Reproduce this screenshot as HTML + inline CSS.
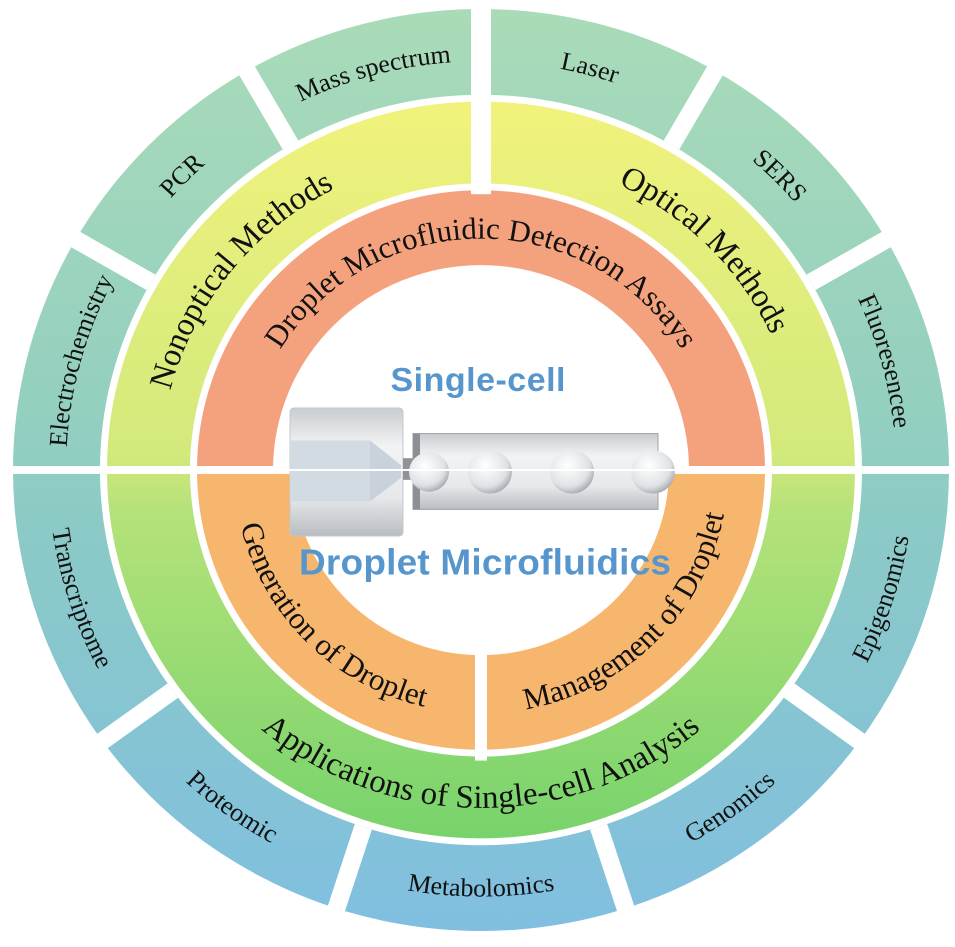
<!DOCTYPE html>
<html><head><meta charset="utf-8"><style>
html,body{margin:0;padding:0;background:#fff;}
svg{display:block;}
.o{font-family:"Liberation Serif",serif;font-size:26px;fill:#111;}
.g{font-family:"Liberation Serif",serif;font-size:33px;fill:#111;}
.r{font-family:"Liberation Serif",serif;font-size:31px;fill:#111;}
</style></head><body>
<svg width="955" height="947" viewBox="0 0 955 947" xmlns="http://www.w3.org/2000/svg">
<defs>
<linearGradient id="og" gradientUnits="userSpaceOnUse" x1="0" y1="-468" x2="0" y2="468">
<stop offset="0" stop-color="#a9dbb8"/><stop offset="0.45" stop-color="#93cfc0"/><stop offset="0.55" stop-color="#8ccac6"/><stop offset="1" stop-color="#80bfe0"/></linearGradient>
<linearGradient id="gg" gradientUnits="userSpaceOnUse" x1="0" y1="-374" x2="0" y2="374">
<stop offset="0" stop-color="#f1f27c"/><stop offset="0.48" stop-color="#d2e97c"/><stop offset="0.55" stop-color="#b6e27a"/><stop offset="1" stop-color="#78d36c"/></linearGradient>
<linearGradient id="mg" x1="0" y1="0" x2="0" y2="1">
<stop offset="0" stop-color="#c9ccd0"/><stop offset="0.3" stop-color="#f2f3f4"/><stop offset="0.7" stop-color="#e6e8ea"/><stop offset="1" stop-color="#b9bdc1"/></linearGradient>
<radialGradient id="dg" cx="0.4" cy="0.35" r="0.7">
<stop offset="0" stop-color="#ffffff"/><stop offset="0.7" stop-color="#dfe2e5"/><stop offset="1" stop-color="#9fa4a9"/></radialGradient>
</defs>
<g transform="translate(481,470) scale(1,0.985)">
<circle r="468" fill="url(#og)"/>
<circle r="377" fill="url(#gg)"/>
<path d="M -287 0 A 287 287 0 0 1 287 0 Z" fill="#f4a27e"/>
<path d="M -287 0 A 287 287 0 0 0 287 0 Z" fill="#f7b66e"/>
<circle r="188" fill="#fff"/>
<path d="M -208 0 A 208 208 0 0 1 208 0 Z" fill="#fff"/>
<circle r="377.5" fill="none" stroke="#fff" stroke-width="7"/>
<circle r="287.5" fill="none" stroke="#fff" stroke-width="7"/>
<rect x="-500" y="-4" width="1000" height="8" fill="#fff"/>
<rect x="-10" y="-480" width="20" height="200" fill="#fff"/>
<rect x="-6" y="0" width="12" height="295" fill="#fff"/>
<g stroke="#fff" stroke-width="18">
<line x1="-330" y1="-190.5" x2="-424.4" y2="-245"/>
<line x1="-190.5" y1="-330" x2="-245" y2="-424.4"/>
<line x1="330" y1="-190.5" x2="424.4" y2="-245"/>
<line x1="190.5" y1="-330" x2="245" y2="-424.4"/>
<line x1="308.2" y1="224" x2="396.4" y2="288.1"/>
<line x1="117.7" y1="362.3" x2="151.4" y2="466"/>
<line x1="-117.7" y1="362.3" x2="-151.4" y2="466"/>
<line x1="-308.2" y1="224" x2="-396.4" y2="288.1"/>
</g>
<path id="ot" d="M -415 0 A 415 415 0 0 1 415 0" fill="none"/>
<path id="ob" d="M -433 0 A 433 433 0 0 0 433 0" fill="none"/>
<path id="gt" d="M -321 0 A 321 321 0 0 1 321 0" fill="none"/>
<path id="gb" d="M -343 0 A 343 343 0 0 0 343 0" fill="none"/>
<path id="rt" d="M -235 0 A 235 235 0 0 1 235 0" fill="none"/>
<path id="rb" d="M -247 0 A 247 247 0 0 0 247 0" fill="none"/>
<g text-anchor="middle">
<text class="o"><textPath href="#ot" startOffset="8.6%">Electrochemistry</textPath></text>
<text class="o"><textPath href="#ot" startOffset="25%">PCR</textPath></text>
<text class="o"><textPath href="#ot" startOffset="41.7%">Mass spectrum</textPath></text>
<text class="o"><textPath href="#ot" startOffset="58.3%">Laser</textPath></text>
<text class="o"><textPath href="#ot" startOffset="75%">SERS</textPath></text>
<text class="o"><textPath href="#ot" startOffset="91.5%">Fluoresencee</textPath></text>
<text class="o"><textPath href="#ob" startOffset="10%">Transcriptome</textPath></text>
<text class="o"><textPath href="#ob" startOffset="30%">Proteomic</textPath></text>
<text class="o"><textPath href="#ob" startOffset="50%">Metabolomics</textPath></text>
<text class="o"><textPath href="#ob" startOffset="70%">Genomics</textPath></text>
<text class="o"><textPath href="#ob" startOffset="90%">Epigenomics</textPath></text>
<text class="g"><textPath href="#gt" startOffset="21.5%">Nonoptical Methods</textPath></text>
<text class="g"><textPath href="#gt" startOffset="75%">Optical Methods</textPath></text>
<text class="g"><textPath href="#gb" startOffset="50%">Applications of Single-cell Analysis</textPath></text>
<text class="r"><textPath href="#rt" startOffset="50%">Droplet Microfluidic Detection Assays</textPath></text>
<text class="r"><textPath href="#rb" startOffset="25%">Generation of Droplet</textPath></text>
<text class="r"><textPath href="#rb" startOffset="75%">Management of Droplet</textPath></text>
</g>
<rect x="-191" y="-63" width="113" height="130" rx="4" fill="url(#mg)" stroke="#c4c7ca"/>
<rect x="-191" y="-30" width="80" height="62" fill="#d3dbe2"/>
<path d="M -111 -30 L -80 -5 L -80 8 L -111 32 Z" fill="#c9d2da"/>
<rect x="-78" y="-12" width="12" height="22" fill="#8d9398"/>
<rect x="-68" y="-37" width="245" height="77" fill="url(#mg)" stroke="#9ea3a8"/>
<rect x="-68" y="-37" width="7" height="77" fill="#8a9095"/>
<circle cx="-52" cy="2" r="20" fill="url(#dg)"/>
<circle cx="9" cy="2" r="22" fill="url(#dg)"/>
<circle cx="91" cy="2" r="22" fill="url(#dg)"/>
<circle cx="172" cy="2" r="22" fill="url(#dg)"/>
<line x1="-195" y1="0" x2="195" y2="0" stroke="#fff" stroke-width="2"/>
<text x="-3" y="-80" text-anchor="middle" font-family="Liberation Sans, sans-serif" font-size="34" font-weight="600" fill="#5796cc" textLength="175">Single-cell</text>
<text x="4" y="106" text-anchor="middle" font-family="Liberation Sans, sans-serif" font-size="37" font-weight="600" fill="#5796cc" textLength="372">Droplet Microfluidics</text>
</g>
</svg>
</body></html>
